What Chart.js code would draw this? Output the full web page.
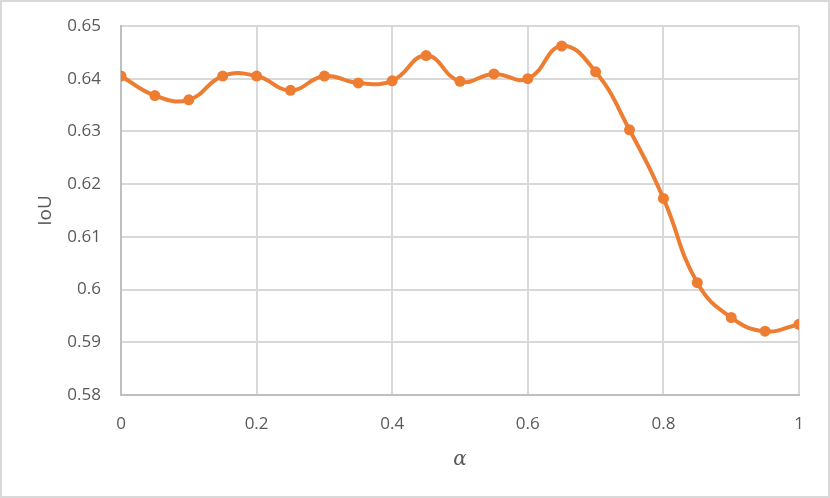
<!DOCTYPE html>
<html>
<head>
<meta charset="utf-8">
<script src="https://cdn.jsdelivr.net/npm/chart.js@4/dist/chart.umd.min.js"></script>
<style>
  html, body { margin: 0; padding: 0; background: #fff; }
  #wrap { width: 830px; height: 498px; position: relative; }
</style>
</head>
<body>
<div id="wrap"><canvas id="myChart" width="830" height="498"></canvas></div>
<script>
// alpha values on the x axis
const alphas = [0, 0.05, 0.1, 0.15, 0.2, 0.25, 0.3, 0.35, 0.4, 0.45, 0.5,
                0.55, 0.6, 0.65, 0.7, 0.75, 0.8, 0.85, 0.9, 0.95, 1];
// IoU
const iou = [0.6405, 0.6368, 0.6360, 0.6405, 0.6405, 0.6378, 0.6405, 0.6392, 0.6396, 0.6444, 0.6395,
             0.6409, 0.6400, 0.6462, 0.6413, 0.6303, 0.6173, 0.6013, 0.5947, 0.5921, 0.5934];
const xTicks = [0, 0.2, 0.4, 0.6, 0.8, 1];
const yTicks = [0.58, 0.59, 0.6, 0.61, 0.62, 0.63, 0.64, 0.65];

const orange = '#ED7D31';
const gridColor = '#d9d9d9';
const textColor = '#595959';
const tickFont = { family: 'Open Sans', size: 17 };

const frame = {
    id: 'frame',
    beforeDraw(chart) {
        const c = chart.ctx;
        c.save();
        c.fillStyle = '#fff';
        c.fillRect(0, 0, chart.width, chart.height);
        c.strokeStyle = gridColor;
        c.lineWidth = 2;
        c.strokeRect(1, 1, chart.width - 2, chart.height - 2);
        c.restore();
    }
};

const ctx = document.getElementById('myChart');
new Chart(ctx, {
    type: 'line',
    data: {
        datasets: [{
            label: 'IoU',
            data: alphas.map((a, i) => ({ x: a, y: iou[i] })),
            borderColor: orange,
            backgroundColor: orange,
            borderWidth: 4,
            pointRadius: 5.5,
            pointBorderWidth: 0,
            tension: 0.45,
            fill: false
        }]
    },
    options: {
        responsive: false,
        animation: false,
        layout: { padding: { left: 0, right: 31, top: 26, bottom: 0 } },
        plugins: { legend: { display: false }, tooltip: { enabled: false } },
        scales: {
            x: {
                type: 'linear',
                min: 0, max: 1,
                afterBuildTicks: s => { s.ticks = xTicks.map(v => ({ value: v })); },
                afterFit: s => { s.height = 103; s.paddingLeft = 0; s.paddingRight = 0; },
                grid: { color: gridColor, lineWidth: 2, drawTicks: false },
                border: { color: '#bfbfbf', width: 2 },
                ticks: { color: textColor, font: tickFont, padding: 19, maxRotation: 0,
                         callback: v => String(v) },
                title: { display: true, text: 'α', color: textColor,
                         font: { family: 'DejaVu Serif', size: 20, style: 'italic' },
                         padding: { top: 0, bottom: 26 } }
            },
            y: {
                min: 0.58, max: 0.65,
                afterBuildTicks: s => { s.ticks = yTicks.map(v => ({ value: v })); },
                afterFit: s => { s.width = 121; s.paddingTop = 0; s.paddingBottom = 0; },
                grid: { color: gridColor, lineWidth: 2, drawTicks: false },
                border: { color: '#bfbfbf', width: 2 },
                ticks: { color: textColor, font: tickFont, padding: 20,
                         callback: v => String(+v.toFixed(2)) },
                title: { display: true, text: 'IoU', color: textColor,
                         font: { family: 'Open Sans', size: 19 },
                         padding: { top: 34, bottom: 0 } }
            }
        }
    },
    plugins: [frame]
});
</script>
</body>
</html>
